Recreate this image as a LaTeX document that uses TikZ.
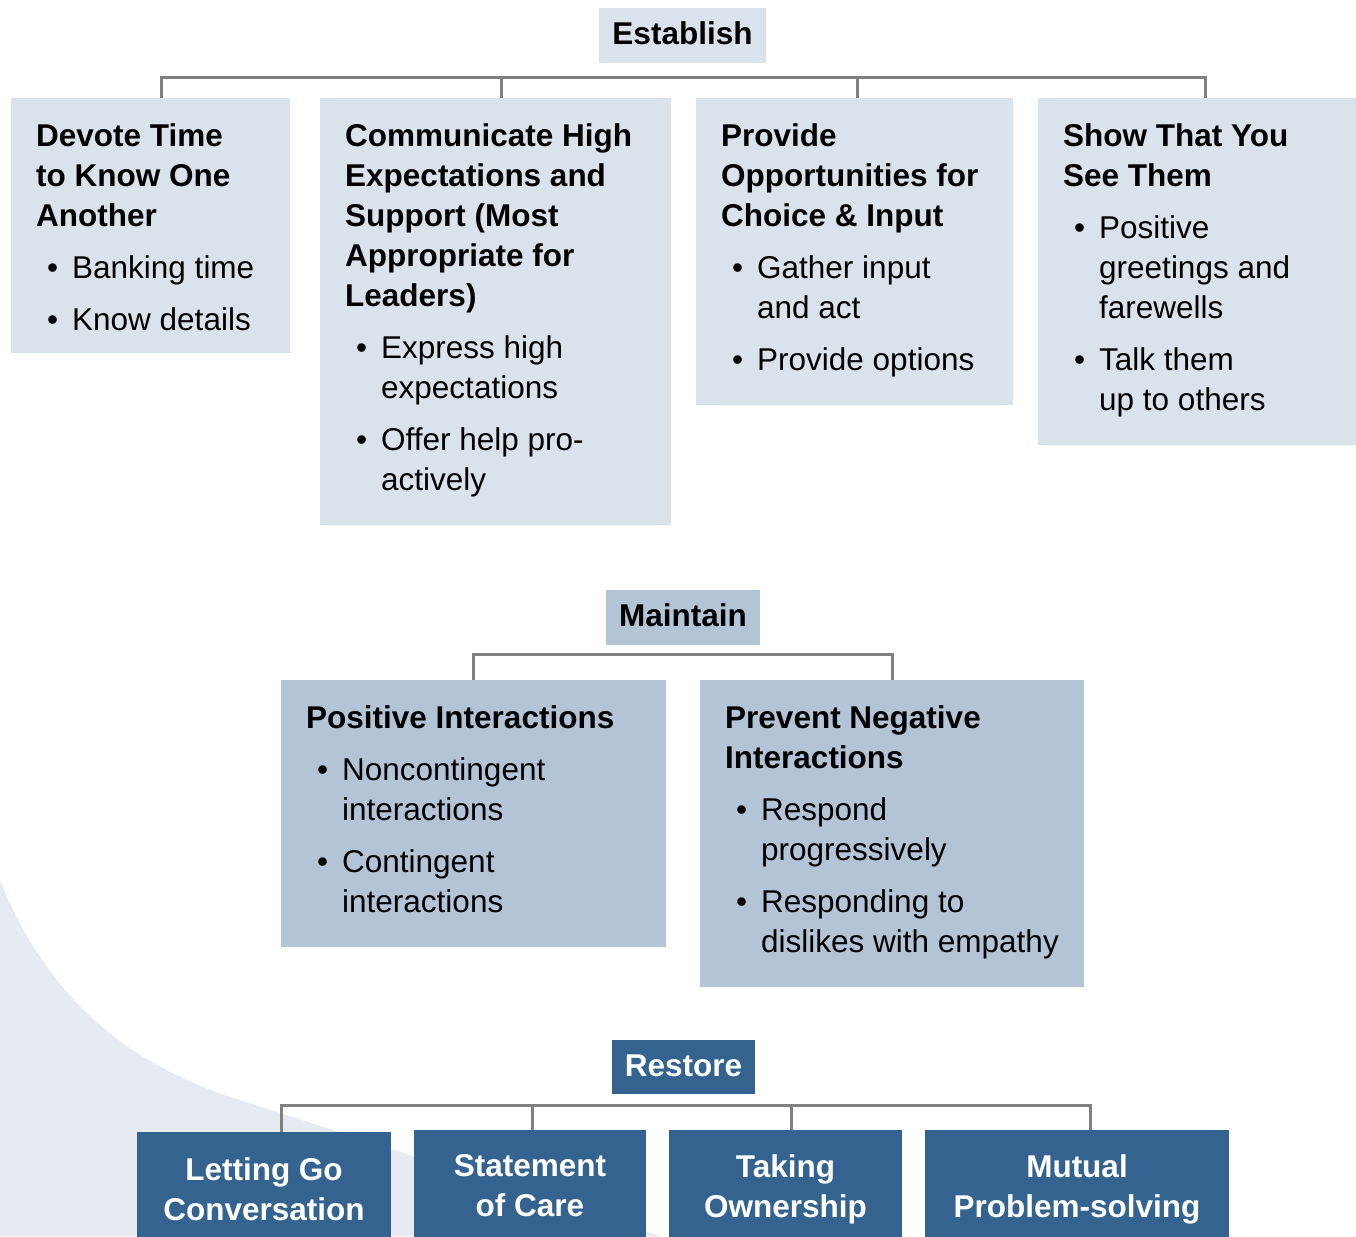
\documentclass[tikz,border=0pt]{standalone}
\usepackage{fontspec}
\setmainfont{Liberation Sans}

\definecolor{estfill}{HTML}{DAE2EB}
\definecolor{mntfill}{HTML}{B3C4D6}
\definecolor{rstfill}{HTML}{35638F}
\definecolor{swfill}{HTML}{E6EBF1}
\definecolor{connline}{HTML}{808080}

% text block inside a box: width, height, content
\newcommand{\boxtext}[3]{\parbox[c][#2pt][t]{#1pt}{\raggedright\leftskip=25pt\parskip=0pt\vspace*{20pt}#3}}
\newcommand{\boxhead}[1]{\noindent{\bfseries\strut#1\par}}
\newcommand{\bpt}[1]{\par\vspace{12pt}\hangindent=36pt\hangafter=1\noindent\hspace*{11pt}\makebox[25pt][l]{\textbullet}#1\par}

\tikzset{
  estbox/.style={fill=estfill, inner sep=0pt},
  mntbox/.style={fill=mntfill, inner sep=0pt},
  rstbox/.style={fill=rstfill, text=white, inner sep=0pt, align=center, font=\fontsize{31.5}{40}\selectfont\bfseries},
  conn/.style={draw=connline, line width=3pt},
  swoosh/.style={fill=swfill}
}

\begin{document}
\begin{tikzpicture}[x=1pt, y=-1pt, font=\fontsize{31.5}{40}\selectfont]

\useasboundingbox (0,0) rectangle (1356,1236);
\clip (0,0) rectangle (1356,1236);

% background swoosh
    \fill[swoosh] (0,880) .. controls (40,980) and (110,1060) .. (240,1100) -- (660,1236) -- (0,1236) -- cycle;

% establish
    \node[estbox, minimum width=167, minimum height=55, text depth=4] (est) at (682.5,35.5) {\textbf{Establish}};
    \node[estbox, anchor=north west] (dev) at (11,98)
        {\boxtext{279}{255}{\boxhead{Devote Time\newline to Know One\newline Another}%
        \bpt{Banking time}\bpt{Know details}}};
    \node[estbox, anchor=north west] (comm) at (320,98)
        {\boxtext{351}{427}{\boxhead{Communicate High\newline Expectations and\newline Support (Most\newline Appropriate for\newline Leaders)}%
        \bpt{Express high\newline expectations}\bpt{Offer help pro-\newline actively}}};
    \node[estbox, anchor=north west] (prov) at (696,98)
        {\boxtext{317}{307}{\boxhead{Provide\newline Opportunities for\newline Choice \& Input}%
        \bpt{Gather input\newline and act}\bpt{Provide options}}};
    \node[estbox, anchor=north west] (see) at (1038,98)
        {\boxtext{318}{347}{\boxhead{Show That You\newline See Them}%
        \bpt{Positive\newline greetings and\newline farewells}\bpt{Talk them\newline up to others}}};
% connectors
    \coordinate (ebar) at (0,78);
    \draw[conn] ([xshift=10.5]dev.north) -- ([xshift=10.5]dev.north |- ebar)
        -- ([xshift=8]see.north |- ebar) -- ([xshift=8]see.north);
    \draw[conn] ([xshift=5.5]comm.north) -- ([xshift=5.5]comm.north |- ebar);
    \draw[conn] ([xshift=2.5]prov.north) -- ([xshift=2.5]prov.north |- ebar);

% maintain
    \node[mntbox, minimum width=154, minimum height=55, text depth=4] (mnt) at (683,617.5) {\textbf{Maintain}};
    \node[mntbox, anchor=north west] (pos) at (281,680)
        {\boxtext{385}{267}{\boxhead{Positive Interactions}%
        \bpt{Noncontingent\newline interactions}\bpt{Contingent\newline interactions}}};
    \node[mntbox, anchor=north west] (prev) at (700,680)
        {\boxtext{384}{307}{\boxhead{Prevent Negative\newline Interactions}%
        \bpt{Respond\newline progressively}\bpt{Responding to\newline dislikes with empathy}}};
% connectors
    \coordinate (mbar) at (0,654);
    \draw[conn] (pos.north) -- (pos.north |- mbar) -- (prev.north |- mbar) -- (prev.north);

% restore
    \node[rstbox, minimum width=143, minimum height=54, text depth=2] (rst) at (683.5,1067) {Restore};
    \node[rstbox, minimum width=254, minimum height=114] (let) at (264,1189) {Letting Go\\Conversation};
    \node[rstbox, minimum width=232, minimum height=112] (stm) at (530,1186) {Statement\\of Care};
    \node[rstbox, minimum width=233, minimum height=118] (own) at (785.5,1189) {Taking\\Ownership};
    \node[rstbox, minimum width=304, minimum height=118] (mut) at (1077,1189) {Mutual\\Problem-solving};
% connectors
    \coordinate (rbar) at (0,1105);
    \draw[conn] ([xshift=17]let.north) -- ([xshift=17]let.north |- rbar)
        -- ([xshift=13]mut.north |- rbar) -- ([xshift=13]mut.north);
    \draw[conn] ([xshift=2]stm.north) -- ([xshift=2]stm.north |- rbar);
    \draw[conn] ([xshift=5.5]own.north) -- ([xshift=5.5]own.north |- rbar);

\end{tikzpicture}
\end{document}
